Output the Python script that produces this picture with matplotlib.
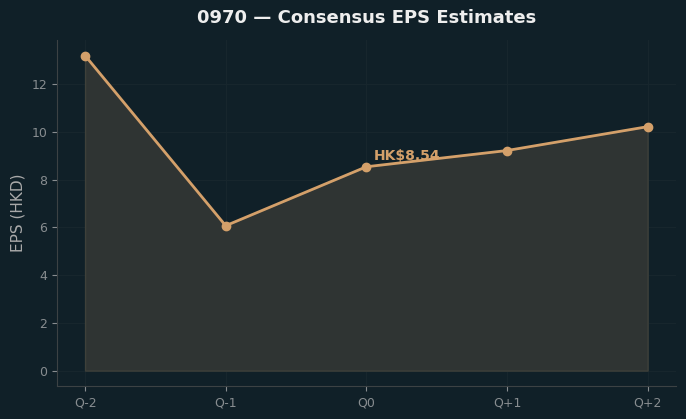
import numpy as np
import matplotlib.pyplot as plt

quarters = ["Q-2", "Q-1", "Q0", "Q+1", "Q+2"]
eps = [13.2, 6.07, 8.54, 9.22, 10.22]
current_label = "HK$8.54"
current_idx = 2

bg = "#102028"
line_c = "#d4a06a"

fig, ax = plt.subplots(figsize=(6.86, 4.19), dpi=100)
fig.patch.set_facecolor(bg)
ax.set_facecolor(bg)
ax.set_axisbelow(True)

x = np.arange(len(quarters))
ax.fill_between(x, eps, 0, color="#2f3433", edgecolor="#3e403a", linewidth=1, zorder=2)
ax.plot(x, eps, color=line_c, linewidth=2, marker="o", markersize=6, zorder=3)
ax.annotate(current_label, (x[current_idx], eps[current_idx]), xytext=(5, 5),
            textcoords="offset points", color=line_c, fontsize=10, fontweight="bold")

ax.set_xticks(x)
ax.set_xticklabels(quarters)
ax.set_title("0970 — Consensus EPS Estimates", color="#eeeeee", fontsize=13,
             fontweight="bold", pad=12)
ax.set_ylabel("EPS (HKD)", color="#aaaaaa", fontsize=11)
ax.tick_params(colors="#888d90", labelsize=9)
ax.grid(True, color="#17262d", linewidth=0.8, zorder=0)
for s in ["top", "right"]:
    ax.spines[s].set_visible(False)
for s in ["left", "bottom"]:
    ax.spines[s].set_color("#3c4244")

fig.subplots_adjust(left=0.083, right=0.985, top=0.905, bottom=0.078)
fig.savefig("out.png", facecolor=bg)
